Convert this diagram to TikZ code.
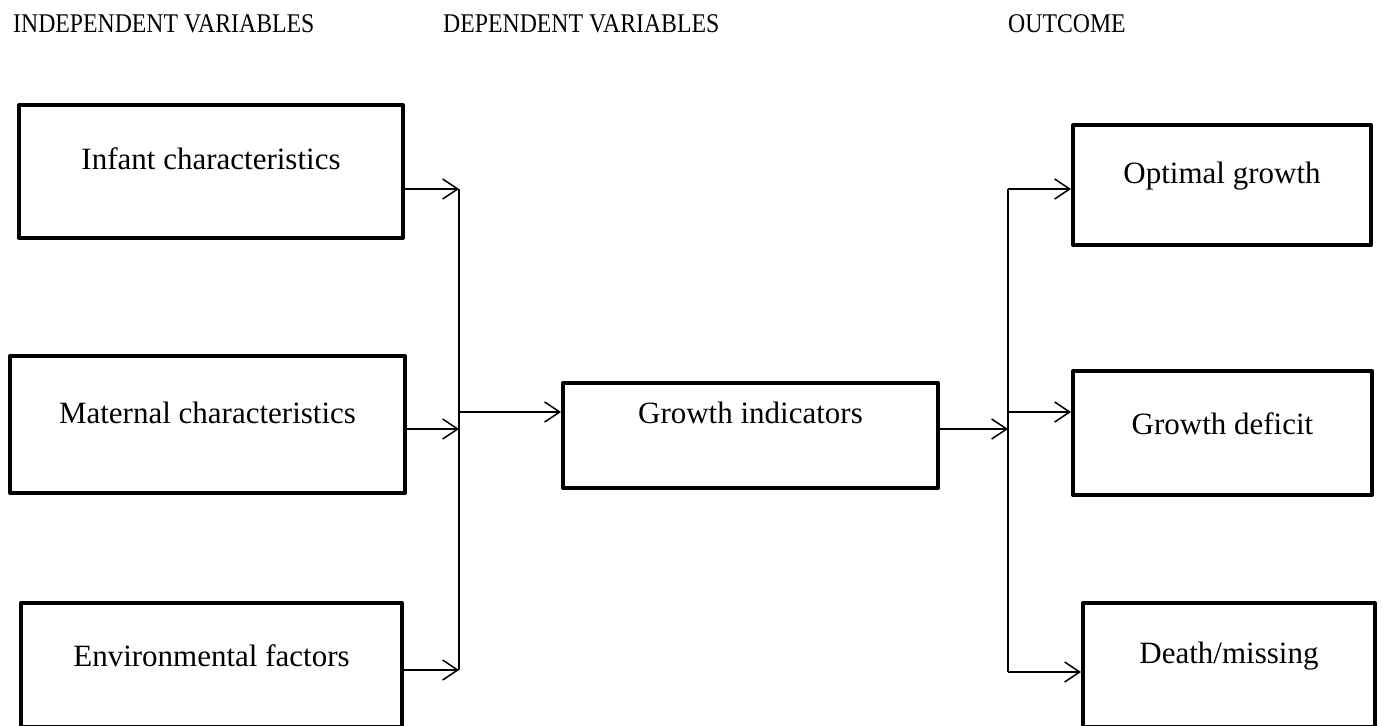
\documentclass[tikz,border=0pt]{standalone}
\usepackage{fontspec}
\setmainfont{Liberation Serif}
\newfontfamily\headfont[FakeStretch=0.88]{Liberation Serif}
\usetikzlibrary{arrows.meta}

\tikzset{
  varbox/.style={draw,line width=4pt,line join=round,align=center,inner sep=0pt,
    text height=22pt,font=\fontsize{31}{36}\selectfont},
  link/.style={line width=1.5pt,-{Straight Barb[length=15pt,width=20pt,line width=1.5pt]}},
  trunk/.style={line width=1.5pt},
  header/.style={anchor=base west,inner sep=0pt,font=\headfont\fontsize{27}{32}\selectfont}
}

\begin{document}
\begin{tikzpicture}[x=1pt,y=-1pt]
    \useasboundingbox (0,0) rectangle (1383,725);

    % Column headings
    \node[header] (hind) at (13,33) {INDEPENDENT VARIABLES};
    \node[header] (hdep) at (443,33) {DEPENDENT VARIABLES};
    \node[header] (hout) at (1008,33) {OUTCOME};

    % Independent variables
    \node[varbox,minimum width=384pt,minimum height=133pt,text depth=27pt] (infant) at (211,171.5) {Infant characteristics};
    \node[varbox,minimum width=395pt,minimum height=137pt,text depth=24pt] (maternal) at (207.5,424.5) {Maternal characteristics};
    \node[varbox,minimum width=381pt,minimum height=124pt,text depth=20pt] (environ) at (211.5,665) {Environmental factors};

    % Dependent variable
    \node[varbox,minimum width=375pt,minimum height=105pt,text depth=46pt] (growth) at (750.5,435.5) {Growth indicators};

    % Outcomes
    \node[varbox,minimum width=298pt,minimum height=120pt,text depth=26pt] (optimal) at (1222,185) {Optimal growth};
    \node[varbox,minimum width=299pt,minimum height=124pt,text depth=20pt] (deficit) at (1222.5,433) {Growth deficit};
    \node[varbox,minimum width=292pt,minimum height=124pt,text depth=26pt] (death) at (1229,665) {Death/missing};

    % Junction points
    \coordinate (ltop) at (459,189);
    \coordinate (lmid) at (459,429);
    \coordinate (lbot) at (459,670);
    \coordinate (lout) at (459,412);
    \coordinate (rtop) at (1008,189);
    \coordinate (rmid) at (1008,429);
    \coordinate (rdef) at (1008,412);
    \coordinate (rbot) at (1008,672);

    % Left side: into the junction
    \draw[link] (infant.east |- ltop) -- (ltop);
    \draw[link] (maternal.east |- lmid) -- (lmid);
    \draw[link] (environ.east |- lbot) -- (lbot);
    \draw[trunk] (ltop) -- (lbot);
    \draw[link] (lout) -- (growth.west |- lout);

    % Right side: out to the outcomes
    \draw[link] (growth.east |- rmid) -- (rmid);
    \draw[trunk] (rtop) -- (rbot);
    \draw[link] (rtop) -- (optimal.west |- rtop);
    \draw[link] (rdef) -- (deficit.west |- rdef);
    \draw[link] (rbot) -- (death.west |- rbot);
\end{tikzpicture}
\end{document}
